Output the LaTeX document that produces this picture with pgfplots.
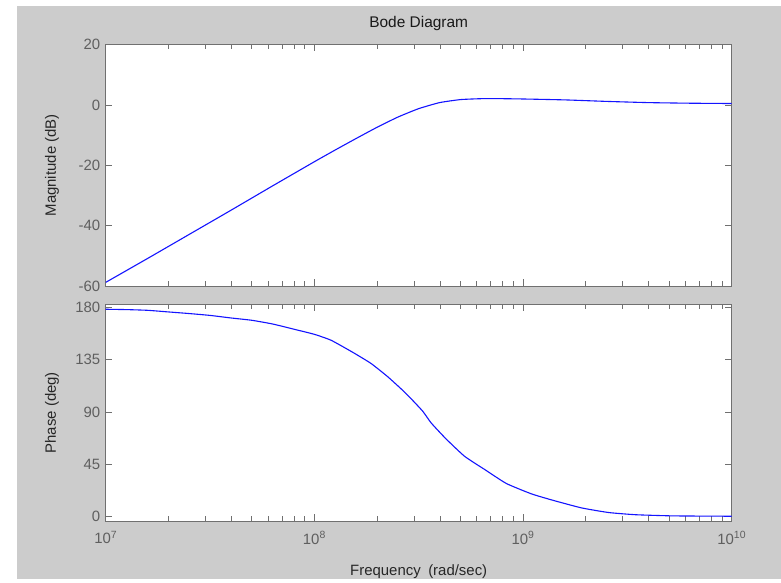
\documentclass[border=0pt]{standalone}
\usepackage{fontspec}
\setmainfont{Liberation Sans}
\usepackage{pgfplots}
\pgfplotsset{compat=1.18}

\definecolor{figbg}{RGB}{204,204,204}
\definecolor{axisgray}{RGB}{112,112,112}
\definecolor{ticklab}{RGB}{95,95,95}
\definecolor{curve}{RGB}{20,20,255}

\begin{document}
\begin{tikzpicture}
\fill[white] (0bp,0bp) rectangle (781bp,579bp);
\fill[figbg] (17bp,0bp) rectangle (781bp,573bp);
\node[font=\fontsize{15.5}{18}\selectfont, text=black!90] at (418.7bp,555bp) {Bode Diagram};

% magnitude
\begin{semilogxaxis}[
  scale only axis,
  width=626bp, height=241.3bp,
  at={(105.7bp,293bp)}, anchor=south west,
  xmin=1e7, xmax=1e10,
  ymin=-60, ymax=20,
  xtick={1e7,1e8,1e9,1e10},
  minor xtick={2e7,3e7,4e7,5e7,6e7,7e7,8e7,9e7,
               2e8,3e8,4e8,5e8,6e8,7e8,8e8,9e8,
               2e9,3e9,4e9,5e9,6e9,7e9,8e9,9e9},
  ytick={-60,-40,-20,0,20},
  xticklabels={},
  axis background/.style={fill=white},
  axis line style={axisgray, line width=0.9bp},
  every tick/.style={axisgray, line width=0.8bp},
  major tick length=6.5bp,
  minor tick length=4.5bp,
  tick align=inside,
  /pgf/number format/assume math mode=true,
  tick label style={font=\fontsize{15}{18}\selectfont, text=ticklab},
  yticklabel style={xshift=-2bp},
  ylabel={Magnitude (dB)},
  ylabel style={at={(axis description cs:-0.0858,0.5)},
    anchor=center, font=\fontsize{15}{18}\selectfont, text=black!85},
]
\addplot[curve, line width=1.1bp, smooth, tension=0.3] table {
1e7      -58.8
1.585e7  -50.9
2.512e7  -42.9
3.981e7  -34.9
6.310e7  -26.8
1e8      -18.8
1.259e8  -14.9
1.585e8  -11.1
1.995e8  -7.4
2.512e8  -4.0
3.162e8  -1.2
3.981e8   0.8
5.012e8   1.8
6.310e8   2.1
7.943e8   2.1
1e9       2.0
1.585e9   1.7
2.512e9   1.2
3.981e9   0.8
6.310e9   0.6
1e10      0.5
};
\end{semilogxaxis}

% phase
\begin{semilogxaxis}[
  scale only axis,
  width=626bp, height=216.5bp,
  at={(105.7bp,58bp)}, anchor=south west,
  xmin=1e7, xmax=1e10,
  ymin=-3.9, ymax=182.6,
  xtick={1e7,1e8,1e9,1e10},
  minor xtick={2e7,3e7,4e7,5e7,6e7,7e7,8e7,9e7,
               2e8,3e8,4e8,5e8,6e8,7e8,8e8,9e8,
               2e9,3e9,4e9,5e9,6e9,7e9,8e9,9e9},
  ytick={0,45,90,135,180},
  xticklabels={{10\textsuperscript{7}},{10\textsuperscript{8}},{10\textsuperscript{9}},{10\textsuperscript{10}}},
  axis background/.style={fill=white},
  axis line style={axisgray, line width=0.9bp},
  every tick/.style={axisgray, line width=0.8bp},
  major tick length=6.5bp,
  minor tick length=4.5bp,
  tick align=inside,
  /pgf/number format/assume math mode=true,
  tick label style={font=\fontsize{15}{18}\selectfont, text=ticklab},
  yticklabel style={xshift=-2bp},
  xticklabel style={yshift=-7bp},
  ylabel={Phase (deg)},
  ylabel style={at={(axis description cs:-0.0858,0.5)},
    anchor=center, font=\fontsize{15}{18}\selectfont, text=black!85},
  xlabel={Frequency\hspace{0.5em}(rad/sec)},
  xlabel style={at={(axis description cs:0.5,-0.235)},
    anchor=center, font=\fontsize{15}{18}\selectfont, text=black!85},
]
\addplot[curve, line width=1.1bp, smooth, tension=0.3] table {
1e7      178.5
1.259e7  178.2
1.585e7  177.6
1.995e7  176.2
2.512e7  174.8
3.162e7  173.2
3.981e7  171.0
5.012e7  169.0
6.310e7  165.8
7.943e7  161.4
1e8      156.9
1.202e8  151.8
1.514e8  141.8
1.862e8  132.0
2.239e8  120.6
2.630e8  109.2
2.951e8  100.2
3.311e8   90.5
3.631e8   80.5
4.266e8   67.0
5.248e8   51.8
6.607e8   40.0
8.318e8   28.4
1.096e9   19.5
1.380e9   14.1
1.905e9    7.4
2.570e9    3.4
3.467e9    1.5
5.248e9    0.5
1e10       0.2
};
\end{semilogxaxis}
\end{tikzpicture}
\end{document}
